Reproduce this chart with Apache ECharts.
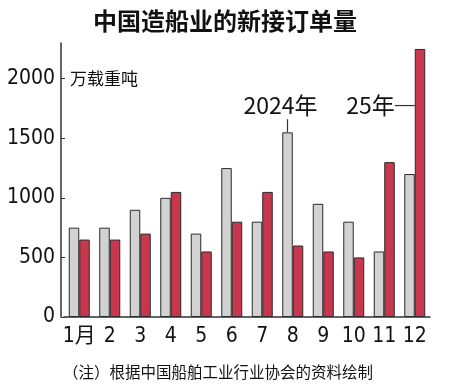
<!DOCTYPE html>
<html><head><meta charset="utf-8">
<script src="https://cdn.jsdelivr.net/npm/echarts@6/dist/echarts.min.js"></script>
<style>html,body{margin:0;padding:0;background:#fff}#c{width:450px;height:391px}</style>
</head><body><div id="c"></div>
<script>
var months = ['1月','2','3','4','5','6','7','8','9','10','11','12'];
var orders2024 = [750, 750, 900, 1000, 700, 1250, 800, 1550, 950, 800, 550, 1200];
var orders2025 = [650, 650, 700, 1050, 550, 800, 1050, 600, 550, 500, 1300, 2250];
var yTicks = [0, 500, 1000, 1500, 2000];

var numFont = '"DejaVu Sans Condensed", "Liberation Sans Narrow", "Noto Sans CJK SC", sans-serif';
var cjkFont = '"Noto Sans CJK SC", sans-serif';
var BW = 10.5;

var chart = echarts.init(document.getElementById('c'));
chart.setOption({
  animation: false,
  backgroundColor: '#fff',
  title: {
    text: '中国造船业的新接订单量', left: 'center', top: 4,
    textStyle: {fontFamily: cjkFont, fontWeight: 'bold', fontSize: 24, color: '#111'}
  },
  grid: {left: 64, right: 20, top: 43, bottom: 74},
  xAxis: {
    type: 'category', data: months,
    axisLine: {lineStyle: {color: '#333', width: 1.5}},
    axisTick: {show: false},
    axisLabel: {interval: 0, fontFamily: numFont, fontSize: 21, color: '#111', margin: 9}
  },
  yAxis: {
    type: 'value', min: 0, max: 2300, interval: 500, offset: 3,
    splitLine: {show: false},
    axisLine: {show: true, lineStyle: {color: '#333', width: 1.5}},
    axisTick: {show: true, inside: true, length: 4, lineStyle: {color: '#333'}, customValues: yTicks},
    axisLabel: {fontFamily: numFont, fontSize: 21, color: '#111', margin: 6, customValues: yTicks,
      formatter: function (v) { return String(v); }}
  },
  series: [
    {name: '2024年', type: 'bar', data: orders2024, barWidth: BW, barGap: '0%',
     itemStyle: {color: '#d2d2d2', borderColor: '#2a2a2a', borderWidth: 1}},
    {name: '2025年', type: 'bar', data: orders2025, barWidth: BW, barGap: '0%',
     itemStyle: {color: '#c8374e', borderColor: '#2a2a2a', borderWidth: 1}}
  ]
});

var c8 = chart.convertToPixel({xAxisIndex: 0}, '8');
var c12 = chart.convertToPixel({xAxisIndex: 0}, '12');
var y2024 = chart.convertToPixel({yAxisIndex: 0}, orders2024[7]);
var yLab = chart.convertToPixel({yAxisIndex: 0}, 1775);
var yLab2 = chart.convertToPixel({yAxisIndex: 0}, 1660);
var lx = c8 - BW / 2;
chart.setOption({
  graphic: [
    {type: 'text', x: lx - 7, y: yLab2 - 2, style: {text: '2024年', fontFamily: cjkFont, fontSize: 23, fill: '#111', textAlign: 'center', textVerticalAlign: 'bottom'}},
    {type: 'line', shape: {x1: lx, y1: yLab2, x2: lx, y2: y2024}, style: {stroke: '#333', lineWidth: 1.2}},
    {type: 'text', x: c12 - 20, y: yLab, style: {text: '25年', fontFamily: cjkFont, fontSize: 23, fill: '#111', textAlign: 'right', textVerticalAlign: 'middle'}},
    {type: 'line', shape: {x1: c12 - 20, y1: yLab, x2: c12, y2: yLab}, style: {stroke: '#333', lineWidth: 1.2}},
    {type: 'text', x: 70, y: chart.convertToPixel({yAxisIndex: 0}, 2000), style: {text: '万载重吨', fontFamily: cjkFont, fontSize: 17, fill: '#111', textVerticalAlign: 'middle'}},
    {type: 'text', x: 63, y: 372, style: {text: '（注）根据中国船舶工业行业协会的资料绘制', fontFamily: cjkFont, fontSize: 15.5, fill: '#111', textVerticalAlign: 'middle'}}
  ]
});
</script></body></html>
